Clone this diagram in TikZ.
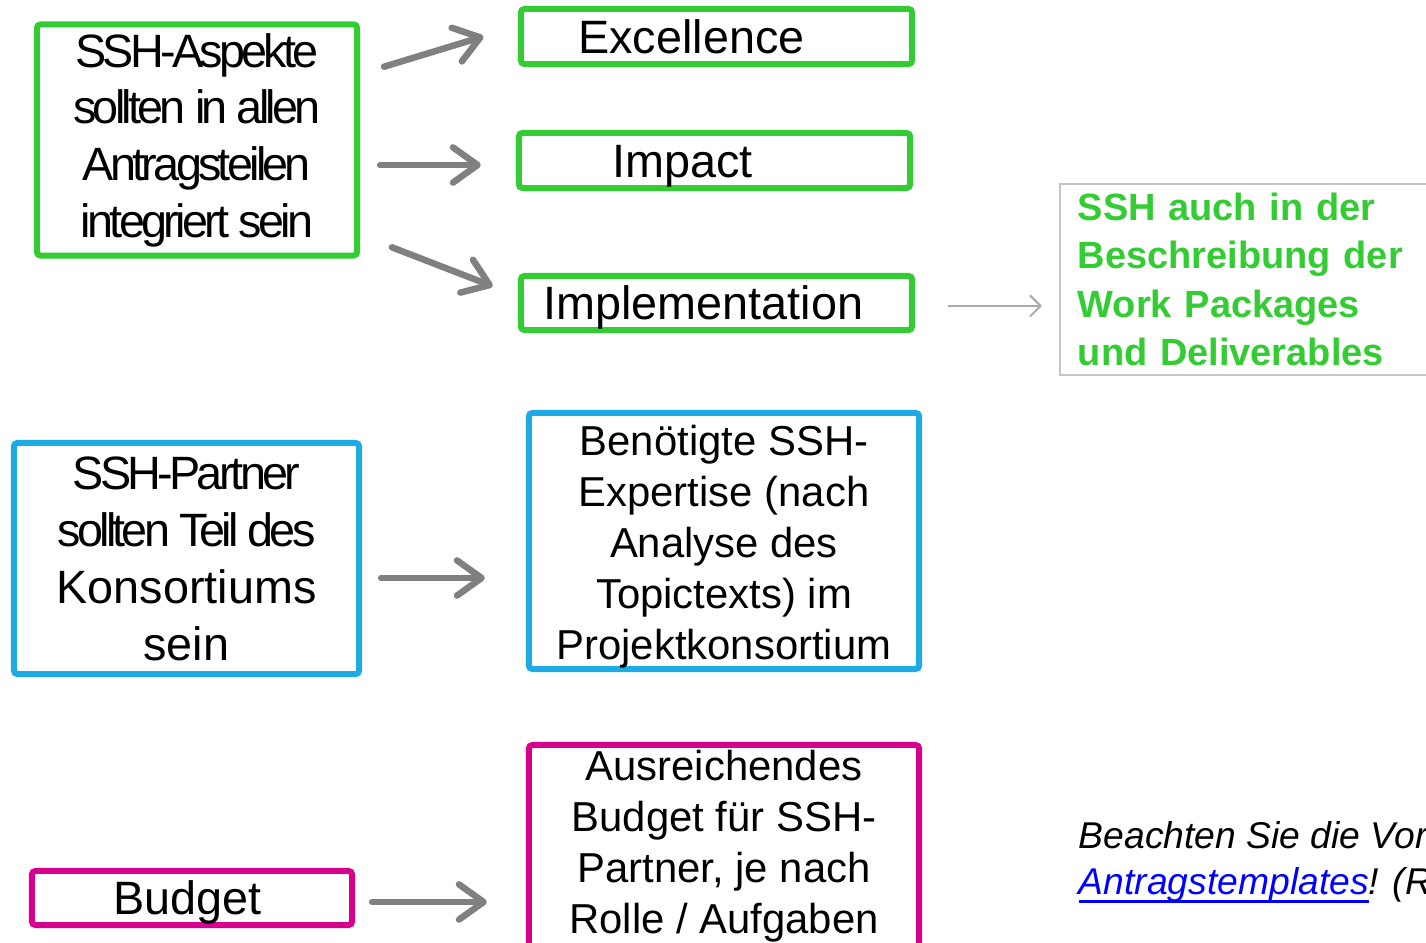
\documentclass[tikz,border=0pt]{standalone}
\usepackage{fontspec}
\setmainfont{Liberation Sans}
\newfontfamily\tightfont[LetterSpace=-8]{Liberation Sans}
\usetikzlibrary{arrows, positioning, calc, arrows.meta}

\definecolor{boxgreen}{RGB}{51,204,51}
\definecolor{boxblue}{RGB}{30,170,226}
\definecolor{boxmagenta}{RGB}{214,0,140}
\definecolor{arrowgray}{RGB}{128,128,128}
\definecolor{thingray}{RGB}{170,170,170}
\definecolor{framegray}{RGB}{196,196,196}
\definecolor{linkblue}{RGB}{0,0,255}

\newcommand{\linkul}[1]{\setbox0\hbox{#1}\rlap{\rule[-2.2pt]{\wd0}{0.8pt}}\box0}

\tikzset{
    box/.style={shape=rectangle, line width=0.06cm, rounded corners=1pt, align=center, inner sep=0pt},
    onerow/.style={text height=9.5pt, text depth=0pt},
    bigfont/.style={font=\fontsize{13.3}{16.2}\selectfont},
    tightbig/.style={font={\tightfont\fontsize{13.3}{16.1}\selectfont}},
    midfont/.style={font=\fontsize{11.9}{14.5}\selectfont},
    bigarrow/.style={draw=arrowgray, line width=0.065cm, line cap=round, -{Straight Barb[length=7pt,width=10pt,round]}},
    thinarrow/.style={draw=thingray, line width=0.6pt, -{Straight Barb[length=3pt,width=6pt]}},
}

\begin{document}
\begin{tikzpicture}[x=0.01cm, y=-0.01cm]
        \useasboundingbox[fill=white] (0,0) rectangle (1426,943);
        \clip (0,0) rectangle (1426,943);

        % green: proposal parts
        \node[box, tightbig, draw=boxgreen, minimum width=3.20cm, minimum height=2.31cm, text height=2.04cm, text depth=0.10cm] (aspekte) at (197,140) {SSH-Aspekte\\sollten in allen\\Antragsteilen\\integriert sein};
        \node[box, onerow, bigfont, draw=boxgreen, minimum width=3.91cm, minimum height=0.55cm] (excellence) at (716.5,36.5) {Excellence\hspace*{0.5cm}};
        \node[box, onerow, bigfont, draw=boxgreen, minimum width=3.91cm, minimum height=0.55cm] (impact) at (714.5,160.5) {Impact\hspace*{0.64cm}};
        \node[box, onerow, bigfont, draw=boxgreen, minimum width=3.91cm, minimum height=0.54cm] (implementation) at (716.5,303) {Implementation\hspace*{0.26cm}};
        \node[shape=rectangle, draw=framegray, line width=0.45pt, anchor=west, minimum height=1.91cm, text width=3.6cm, align=left, inner xsep=0.18cm, inner ysep=0pt, text=boxgreen, font=\fontsize{10.8}{13.7}\selectfont\bfseries] (wpbox) at (1059,279.5) {SSH auch in der\\Beschreibung der\\Work Packages\\und Deliverables};

        % blue: partners
        \node[box, bigfont, draw=boxblue, minimum width=3.45cm, minimum height=2.31cm] (partner) at (186.5,558.5) {{\tightfont SSH-Partner}\\{\tightfont sollten Teil des}\\Konsortiums\\sein};
        \node[box, midfont, draw=boxblue, minimum width=3.90cm, minimum height=2.56cm, text height=2.46cm, text depth=0.10cm] (expertise) at (724,541) {Benötigte SSH-\\Expertise (nach\\Analyse des\\Topictexts) im\\Projektkonsortium};

        % magenta: budget
        \node[box, onerow, bigfont, draw=boxmagenta, minimum width=3.20cm, minimum height=0.54cm] (budget) at (192,898) {Budget\hspace*{0.09cm}};
        \node[box, midfont, draw=boxmagenta, minimum width=3.90cm, anchor=north, inner ysep=0.05cm, text depth=2cm] (ausreichend) at (724,742) {Ausreichendes\\Budget für SSH-\\Partner, je nach\\Rolle / Aufgaben};

        \node[anchor=north west, inner sep=0pt, align=left, font=\fontsize{10.6}{13.1}\selectfont\itshape] (hinweis) at (1078,821) {Beachten Sie die Vor\\\textcolor{linkblue}{\linkul{Antragstemplates}}! (R};

        \path (aspekte.east |- 0,74) edge[bigarrow, shorten <=0.25cm, shorten >=0.36cm] (excellence.west |- 0,26);
        \path (aspekte.east |- 0,165) edge[bigarrow, shorten <=0.20cm, shorten >=0.35cm] (impact.west |- 0,165);
        \path (aspekte.east |- 0,235) edge[bigarrow, shorten <=0.34cm, shorten >=0.27cm] (implementation.west |- 0,296);
        \path (implementation.east |- 0,306) edge[thinarrow, shorten <=0.33cm, shorten >=0.17cm] (wpbox.west |- 0,306);
        \path (partner.east |- 0,578) edge[bigarrow, shorten <=0.19cm, shorten >=0.41cm] (expertise.west |- 0,578);
        \path (budget.east |- 0,902) edge[bigarrow, shorten <=0.17cm, shorten >=0.39cm] (ausreichend.west |- 0,902);

    \end{tikzpicture}
\end{document}
